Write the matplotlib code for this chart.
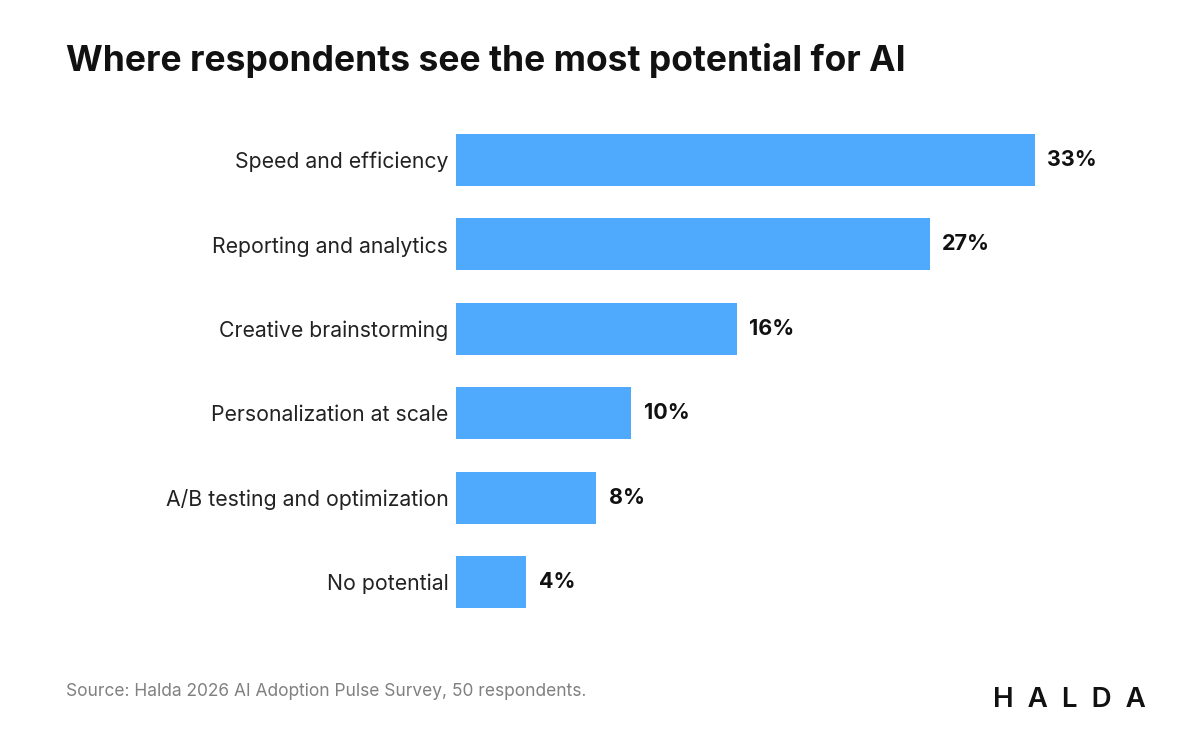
import matplotlib
matplotlib.use("Agg")
import matplotlib.pyplot as plt

categories = ["Speed and efficiency", "Reporting and analytics", "Creative brainstorming",
              "Personalization at scale", "A/B testing and optimization", "No potential"]
values = [33, 27, 16, 10, 8, 4]
labels = [f"{v}%" for v in values]

W, H = 1200, 735
fig = plt.figure(figsize=(W/100, H/100), dpi=100)
fig.patch.set_facecolor("white")
top, bot = 117.8, 624.2
ax = fig.add_axes([456/W, 1 - bot/H, 579/W, (bot-top)/H])
ypos = list(range(len(categories)))
ax.barh(ypos, values, height=0.616, color="#4fa9fd")
ax.set_xlim(0, 33)
ax.set_ylim(len(categories)-0.5, -0.5)
for s in ax.spines.values():
    s.set_visible(False)
ax.set_xticks([])
ax.set_yticks(ypos)
ax.set_yticklabels(categories, fontsize=15.3, color="#222222", family="Inter")
ax.tick_params(axis="y", length=0, pad=5.5)
for y, v, l in zip(ypos, values, labels):
    ax.annotate(l, (v, y), xytext=(9, 0), textcoords="offset points", va="center",
                ha="left", fontsize=15.5, fontweight="bold", color="#111111", family="Inter",
                annotation_clip=False)

fig.text(66/W, 1 - 60/H, "Where respondents see the most potential for AI", fontsize=25.5,
         fontweight="bold", color="#111111", family="Inter", va="center", ha="left")
fig.text(66/W, 1 - 691/H, "Source: Halda 2026 AI Adoption Pulse Survey, 50 respondents.",
         fontsize=12.5, color="#808080", family="Inter", va="center", ha="left")
fig.text(1146/W, 1 - 700/H, "H  A  L  D  A", fontsize=20, fontweight="semibold", color="#111111",
         family="Inter", va="center", ha="right")
fig.savefig("out.png", dpi=100, facecolor="white")
